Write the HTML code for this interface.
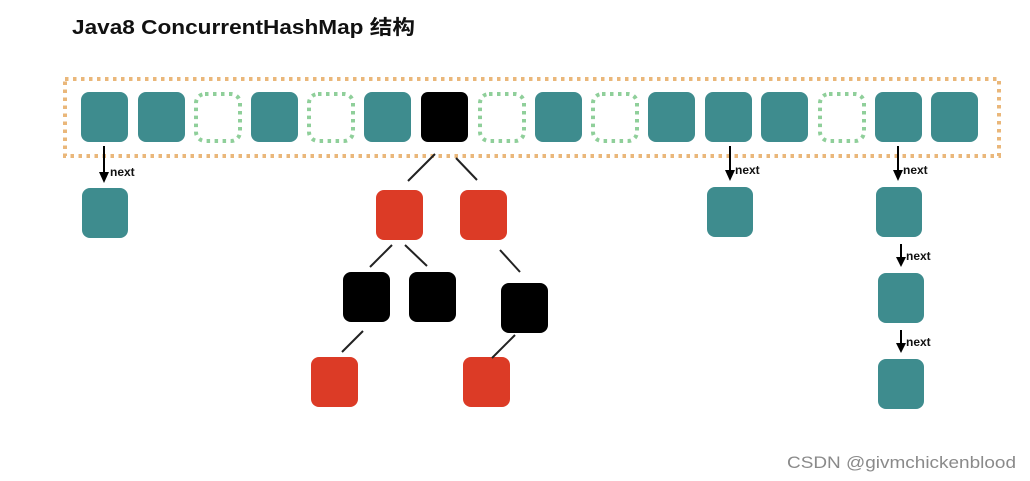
<!DOCTYPE html>
<html><head><meta charset="utf-8"><style>
html,body{margin:0;padding:0;background:#fff;}
svg{display:block;}
</style></head><body>
<svg width="1030" height="481" viewBox="0 0 1030 481" xmlns="http://www.w3.org/2000/svg">
<text x="72" y="34" font-family="Liberation Sans, Noto Sans CJK SC, sans-serif" font-size="20" font-weight="bold" fill="#111" textLength="343" lengthAdjust="spacingAndGlyphs">Java8 ConcurrentHashMap 结构</text>
<rect x="65" y="79" width="934" height="77" fill="none" stroke="#eab77a" stroke-width="4" stroke-dasharray="3.5,4.5"/>
<g fill="#3e8c8e">
<rect x="81" y="92" width="47" height="50" rx="8"/>
<rect x="138" y="92" width="47" height="50" rx="8"/>
<rect x="251" y="92" width="47" height="50" rx="8"/>
<rect x="364" y="92" width="47" height="50" rx="8"/>
<rect x="535" y="92" width="47" height="50" rx="8"/>
<rect x="648" y="92" width="47" height="50" rx="8"/>
<rect x="705" y="92" width="47" height="50" rx="8"/>
<rect x="761" y="92" width="47" height="50" rx="8"/>
<rect x="875" y="92" width="47" height="50" rx="8"/>
<rect x="931" y="92" width="47" height="50" rx="8"/>
<rect x="82" y="188" width="46" height="50" rx="8"/>
<rect x="707" y="187" width="46" height="50" rx="8"/>
<rect x="876" y="187" width="46" height="50" rx="8"/>
<rect x="878" y="273" width="46" height="50" rx="8"/>
<rect x="878" y="359" width="46" height="50" rx="8"/>
</g>
<g fill="none" stroke="#8fcf9a" stroke-width="4" stroke-dasharray="3.5,4.5">
<rect x="196" y="94" width="44" height="47" rx="9"/>
<rect x="309" y="94" width="44" height="47" rx="9"/>
<rect x="480" y="94" width="44" height="47" rx="9"/>
<rect x="593" y="94" width="44" height="47" rx="9"/>
<rect x="820" y="94" width="44" height="47" rx="9"/>
</g>
<g fill="#000">
<rect x="421" y="92" width="47" height="50" rx="7"/>
<rect x="343" y="272" width="47" height="50" rx="8"/>
<rect x="409" y="272" width="47" height="50" rx="8"/>
<rect x="501" y="283" width="47" height="50" rx="8"/>
</g>
<g fill="#dc3b26">
<rect x="376" y="190" width="47" height="50" rx="8"/>
<rect x="460" y="190" width="47" height="50" rx="8"/>
<rect x="311" y="357" width="47" height="50" rx="8"/>
<rect x="463" y="357" width="47" height="50" rx="8"/>
</g>
<g stroke="#222" stroke-width="2">
<line x1="435" y1="154" x2="408" y2="181"/>
<line x1="456" y1="158" x2="477" y2="180"/>
<line x1="392" y1="245" x2="370" y2="267"/>
<line x1="405" y1="245" x2="427" y2="266"/>
<line x1="500" y1="250" x2="520" y2="272"/>
<line x1="363" y1="331" x2="342" y2="352"/>
<line x1="515" y1="335" x2="492" y2="358"/>
</g>
<g stroke="#000" stroke-width="2">
<line x1="104" y1="146" x2="104" y2="174"/>
<line x1="730" y1="146" x2="730" y2="172"/>
<line x1="898" y1="146" x2="898" y2="172"/>
<line x1="901" y1="244" x2="901" y2="259"/>
<line x1="901" y1="330" x2="901" y2="345"/>
</g>
<g fill="#000">
<polygon points="99,172 109,172 104,183"/>
<polygon points="725,170 735,170 730,181"/>
<polygon points="893,170 903,170 898,181"/>
<polygon points="896,257 906,257 901,267"/>
<polygon points="896,343 906,343 901,353"/>
</g>
<g font-family="Liberation Sans, sans-serif" font-size="12" font-weight="bold" fill="#111">
<text x="110" y="176">next</text>
<text x="735" y="174">next</text>
<text x="903" y="174">next</text>
<text x="906" y="260">next</text>
<text x="906" y="346">next</text>
</g>
<text x="787" y="468" font-family="Liberation Sans, sans-serif" font-size="17" fill="#8a8a8a" textLength="229" lengthAdjust="spacingAndGlyphs">CSDN @givmchickenblood</text>
</svg>
</body></html>
